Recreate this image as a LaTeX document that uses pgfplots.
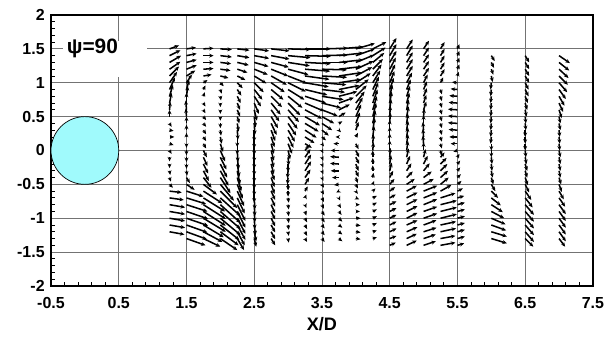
\documentclass[border=0pt]{standalone}
\usepackage{fontspec}
\setmainfont{Liberation Sans}[BoldFont={Liberation Sans Bold}]
\usepackage{pgfplots}
\pgfplotsset{compat=1.18}
\usetikzlibrary{arrows.meta}
\definecolor{cyl}{RGB}{160,250,252}
\begin{document}
\begin{tikzpicture}
\useasboundingbox (-36.7pt,-37.4pt) rectangle (403pt,205.8pt);
\begin{axis}[
  anchor=south west, at={(0pt,0pt)},
  scale only axis, width=390pt, height=195pt,
  xmin=-0.5, xmax=7.5, ymin=-2, ymax=2,
  xtick={-0.5,0.5,...,7.5}, ytick={-2,-1.5,...,2},
  minor x tick num=4, minor y tick num=4,
  tick align=inside, xtick pos=bottom, ytick pos=left,
  major tick length=0pt, minor tick length=3pt,
  grid=major, major grid style={black!55, line width=0.6pt},
  axis line style={line width=1pt},
  every tick/.style={black, line width=0.6pt},
  /pgf/number format/assume math mode=true,
  xticklabel={\textbf{\pgfmathprintnumber{\tick}}},
  yticklabel={\textbf{\pgfmathprintnumber{\tick}}},
  tick label style={font=\fontsize{11.5}{13}\selectfont\bfseries},
  xticklabel style={yshift=-5pt},
  yticklabel style={xshift=-1pt},
  xlabel={\textbf{X/D}}, xlabel style={font=\fontsize{13}{15}\selectfont\bfseries, yshift=1pt},
]
\fill[white] (axis cs:-0.33,1.08) rectangle (axis cs:0.92,1.62);
\node[anchor=west, font=\fontsize{15}{17}\selectfont\bfseries, inner sep=0pt] at (axis cs:-0.27,1.5) {\textbf{ψ=90}};
\draw[fill=cyl, line width=0.5pt] (axis cs:0,0) circle[radius=0.5];
\addplot[black, line width=1.1pt, -{Stealth[length=3.2pt,width=2.8pt]},
  quiver={u=\thisrow{u}, v=\thisrow{v}}] table[x=x, y=y] {
x y u v
1.25 1.5 0.14 0.05
1.25 1.4 0.16 0.08
1.25 1.3 0.17 0.10
1.25 1.2 0.16 0.11
1.25 1.1 0.14 0.14
1.25 1.0 0.11 0.16
1.25 0.9 0.08 0.18
1.25 0.8 0.05 0.17
1.25 0.7 0.03 0.15
1.25 0.6 0.01 0.12
1.25 0.5 0.00 0.10
1.25 0.4 0.03 -0.05
1.25 0.3 0.06 -0.01
1.25 0.2 0.07 0.00
1.25 0.1 0.06 -0.02
1.25 0.0 0.03 -0.05
1.25 -0.1 0.00 -0.06
1.25 -0.2 0.00 -0.06
1.25 -0.3 0.01 -0.06
1.25 -0.4 0.02 -0.06
1.25 -0.5 0.05 -0.05
1.25 -0.6 0.18 -0.02
1.25 -0.7 0.21 -0.03
1.25 -0.8 0.23 -0.04
1.25 -0.9 0.23 -0.04
1.25 -1.0 0.23 -0.04
1.25 -1.1 0.23 -0.04
1.25 -1.2 0.22 -0.04
1.5 1.5 0.14 0.02
1.5 1.4 0.15 0.03
1.5 1.3 0.15 0.04
1.5 1.2 0.15 0.06
1.5 1.1 0.13 0.08
1.5 1.0 0.08 0.12
1.5 0.9 0.04 0.14
1.5 0.8 0.02 0.15
1.5 0.7 0.00 0.15
1.5 0.6 -0.01 0.14
1.5 0.5 -0.01 0.12
1.5 0.4 0.00 0.10
1.5 0.3 0.00 0.08
1.5 0.2 0.00 0.06
1.5 0.1 0.00 -0.06
1.5 0.0 0.00 -0.07
1.5 -0.1 0.00 -0.07
1.5 -0.2 0.00 -0.07
1.5 -0.3 0.01 -0.07
1.5 -0.4 0.05 -0.08
1.5 -0.5 0.12 -0.08
1.5 -0.6 0.25 -0.08
1.5 -0.7 0.29 -0.09
1.5 -0.8 0.31 -0.10
1.5 -0.9 0.32 -0.11
1.5 -1.0 0.32 -0.11
1.5 -1.1 0.31 -0.11
1.5 -1.2 0.30 -0.11
1.5 -1.3 0.28 -0.10
1.75 1.5 0.15 0.01
1.75 1.4 0.15 0.00
1.75 1.3 0.15 0.00
1.75 1.2 0.15 0.01
1.75 1.1 0.12 0.02
1.75 1.0 0.06 0.04
1.75 0.9 0.03 0.06
1.75 0.8 0.02 0.06
1.75 0.7 0.03 -0.05
1.75 0.6 0.03 -0.05
1.75 0.5 0.04 -0.05
1.75 0.4 0.04 -0.05
1.75 0.3 0.04 -0.06
1.75 0.2 0.04 -0.06
1.75 0.1 0.04 -0.07
1.75 0.0 0.05 -0.10
1.75 -0.1 0.06 -0.13
1.75 -0.2 0.07 -0.14
1.75 -0.3 0.08 -0.15
1.75 -0.4 0.12 -0.15
1.75 -0.5 0.20 -0.15
1.75 -0.6 0.28 -0.18
1.75 -0.7 0.32 -0.20
1.75 -0.8 0.33 -0.21
1.75 -0.9 0.33 -0.21
1.75 -1.0 0.33 -0.20
1.75 -1.1 0.30 -0.18
1.75 -1.2 0.28 -0.15
1.75 -1.3 0.25 -0.12
2.0 1.5 0.17 -0.01
2.0 1.4 0.17 -0.02
2.0 1.3 0.16 -0.02
2.0 1.2 0.15 -0.02
2.0 1.1 0.12 -0.03
2.0 1.0 0.05 -0.05
2.0 0.9 0.02 -0.06
2.0 0.8 0.01 -0.06
2.0 0.7 0.00 -0.06
2.0 0.6 0.00 -0.06
2.0 0.5 0.00 -0.06
2.0 0.4 0.00 -0.07
2.0 0.3 0.01 -0.08
2.0 0.2 0.02 -0.10
2.0 0.1 0.04 -0.12
2.0 0.0 0.07 -0.16
2.0 -0.1 0.09 -0.18
2.0 -0.2 0.10 -0.20
2.0 -0.3 0.12 -0.22
2.0 -0.4 0.15 -0.23
2.0 -0.5 0.20 -0.24
2.0 -0.6 0.25 -0.25
2.0 -0.7 0.30 -0.27
2.0 -0.8 0.30 -0.27
2.0 -0.9 0.30 -0.26
2.0 -1.0 0.30 -0.25
2.0 -1.1 0.28 -0.22
2.0 -1.2 0.27 -0.20
2.0 -1.3 0.25 -0.17
2.25 1.5 0.18 -0.02
2.25 1.4 0.18 -0.03
2.25 1.3 0.17 -0.04
2.25 1.2 0.15 -0.05
2.25 1.1 0.12 -0.06
2.25 1.0 0.08 -0.08
2.25 0.9 0.06 -0.09
2.25 0.8 0.05 -0.10
2.25 0.7 0.04 -0.10
2.25 0.6 0.04 -0.10
2.25 0.5 0.03 -0.10
2.25 0.4 0.02 -0.12
2.25 0.3 0.01 -0.14
2.25 0.2 0.00 -0.15
2.25 0.1 0.00 -0.16
2.25 0.0 0.01 -0.17
2.25 -0.1 0.02 -0.18
2.25 -0.2 0.03 -0.19
2.25 -0.3 0.04 -0.20
2.25 -0.4 0.06 -0.20
2.25 -0.5 0.08 -0.21
2.25 -0.6 0.10 -0.22
2.25 -0.7 0.11 -0.23
2.25 -0.8 0.12 -0.24
2.25 -0.9 0.12 -0.24
2.25 -1.0 0.12 -0.23
2.25 -1.1 0.12 -0.22
2.25 -1.2 0.11 -0.20
2.25 -1.3 0.10 -0.17
2.5 1.5 0.22 -0.03
2.5 1.4 0.22 -0.04
2.5 1.3 0.21 -0.06
2.5 1.2 0.20 -0.08
2.5 1.1 0.18 -0.11
2.5 1.0 0.14 -0.14
2.5 0.9 0.12 -0.15
2.5 0.8 0.10 -0.15
2.5 0.7 0.07 -0.16
2.5 0.6 0.04 -0.16
2.5 0.5 0.02 -0.16
2.5 0.4 0.01 -0.17
2.5 0.3 0.00 -0.17
2.5 0.2 0.00 -0.17
2.5 0.1 0.00 -0.17
2.5 0.0 0.00 -0.17
2.5 -0.1 0.00 -0.17
2.5 -0.2 0.00 -0.17
2.5 -0.3 0.00 -0.17
2.5 -0.4 0.00 -0.17
2.5 -0.5 0.00 -0.17
2.5 -0.6 0.00 -0.17
2.5 -0.7 0.01 -0.17
2.5 -0.8 0.01 -0.17
2.5 -0.9 0.01 -0.16
2.5 -1.0 0.01 -0.16
2.5 -1.1 0.02 -0.15
2.5 -1.2 0.03 -0.14
2.5 -1.3 0.03 -0.12
2.75 1.5 0.27 -0.03
2.75 1.4 0.27 -0.05
2.75 1.3 0.26 -0.07
2.75 1.2 0.25 -0.10
2.75 1.1 0.23 -0.13
2.75 1.0 0.20 -0.14
2.75 0.9 0.18 -0.15
2.75 0.8 0.16 -0.16
2.75 0.7 0.14 -0.17
2.75 0.6 0.12 -0.17
2.75 0.5 0.10 -0.17
2.75 0.4 0.08 -0.17
2.75 0.3 0.06 -0.16
2.75 0.2 0.05 -0.15
2.75 0.1 0.04 -0.15
2.75 0.0 0.04 -0.15
2.75 -0.1 0.04 -0.15
2.75 -0.2 0.04 -0.15
2.75 -0.3 0.05 -0.14
2.75 -0.4 0.05 -0.14
2.75 -0.5 0.05 -0.14
2.75 -0.6 0.06 -0.13
2.75 -0.7 0.06 -0.13
2.75 -0.8 0.06 -0.13
2.75 -0.9 0.06 -0.12
2.75 -1.0 0.06 -0.12
2.75 -1.1 0.06 -0.11
2.75 -1.2 0.06 -0.11
2.75 -1.3 0.06 -0.10
3.0 1.5 0.33 -0.01
3.0 1.4 0.33 -0.03
3.0 1.3 0.32 -0.05
3.0 1.2 0.30 -0.08
3.0 1.1 0.28 -0.11
3.0 1.0 0.26 -0.13
3.0 0.9 0.24 -0.15
3.0 0.8 0.21 -0.17
3.0 0.7 0.18 -0.18
3.0 0.6 0.16 -0.18
3.0 0.5 0.14 -0.18
3.0 0.4 0.12 -0.18
3.0 0.3 0.10 -0.17
3.0 0.2 0.08 -0.16
3.0 0.1 0.06 -0.15
3.0 0.0 0.03 -0.13
3.0 -0.1 0.01 -0.12
3.0 -0.2 0.00 -0.12
3.0 -0.3 -0.01 -0.11
3.0 -0.4 -0.01 -0.10
3.0 -0.5 0.00 -0.09
3.0 -0.6 0.00 -0.08
3.0 -0.7 0.01 -0.07
3.0 -0.8 0.01 -0.07
3.0 -0.9 0.01 -0.07
3.0 -1.0 0.01 -0.07
3.0 -1.1 0.01 -0.07
3.0 -1.2 0.01 -0.06
3.0 -1.3 0.01 -0.06
3.25 1.5 0.38 0.00
3.25 1.4 0.38 -0.01
3.25 1.3 0.38 -0.02
3.25 1.2 0.37 -0.03
3.25 1.1 0.36 -0.05
3.25 1.0 0.35 -0.06
3.25 0.9 0.33 -0.08
3.25 0.8 0.31 -0.10
3.25 0.7 0.28 -0.12
3.25 0.6 0.25 -0.13
3.25 0.5 0.22 -0.13
3.25 0.4 0.20 -0.12
3.25 0.3 0.17 -0.11
3.25 0.2 0.14 -0.09
3.25 0.1 0.10 -0.06
3.25 0.0 0.06 0.08
3.25 -0.1 0.08 0.12
3.25 -0.2 0.09 0.14
3.25 -0.3 0.09 0.14
3.25 -0.4 0.08 0.12
3.25 -0.5 0.06 0.10
3.25 -0.6 0.04 0.07
3.25 -0.7 0.02 0.05
3.25 -0.8 0.02 -0.05
3.25 -0.9 0.02 -0.06
3.25 -1.0 0.03 -0.06
3.25 -1.1 0.03 -0.06
3.25 -1.2 0.03 -0.06
3.25 -1.3 0.03 -0.05
3.5 1.5 0.38 0.01
3.5 1.4 0.38 0.01
3.5 1.3 0.38 0.00
3.5 1.2 0.37 -0.01
3.5 1.1 0.37 -0.02
3.5 1.0 0.36 -0.03
3.5 0.9 0.34 -0.04
3.5 0.8 0.32 -0.05
3.5 0.7 0.28 -0.07
3.5 0.6 0.23 -0.09
3.5 0.5 0.18 -0.10
3.5 0.4 0.15 -0.10
3.5 0.3 0.10 -0.08
3.5 0.2 0.06 -0.05
3.5 0.1 0.03 -0.04
3.5 0.0 0.02 -0.04
3.5 -0.1 0.02 -0.05
3.5 -0.2 0.02 -0.05
3.5 -0.3 0.02 -0.05
3.5 -0.4 0.02 -0.05
3.5 -0.5 0.03 -0.05
3.5 -0.6 0.03 -0.05
3.5 -0.7 0.03 -0.06
3.5 -0.8 0.03 -0.06
3.5 -0.9 0.04 -0.06
3.5 -1.0 0.04 -0.06
3.5 -1.1 0.04 -0.05
3.5 -1.2 0.04 -0.05
3.5 -1.3 0.04 -0.05
3.75 1.5 0.36 0.03
3.75 1.4 0.36 0.04
3.75 1.3 0.36 0.04
3.75 1.2 0.35 0.04
3.75 1.1 0.34 0.05
3.75 1.0 0.33 0.05
3.75 0.9 0.30 0.06
3.75 0.8 0.27 0.07
3.75 0.7 0.22 0.08
3.75 0.6 0.16 0.08
3.75 0.5 0.10 0.06
3.75 0.4 0.05 0.03
3.75 0.3 0.03 -0.03
3.75 0.2 -0.05 0.00
3.75 0.1 -0.08 0.00
3.75 0.0 -0.12 0.00
3.75 -0.1 -0.13 0.01
3.75 -0.2 -0.13 0.01
3.75 -0.3 -0.12 0.00
3.75 -0.4 -0.10 0.00
3.75 -0.5 -0.07 -0.01
3.75 -0.6 -0.04 -0.02
3.75 -0.7 0.02 -0.04
3.75 -0.8 0.03 -0.05
3.75 -0.9 0.04 -0.05
3.75 -1.0 0.05 -0.05
3.75 -1.1 0.05 -0.04
3.75 -1.2 0.05 -0.04
3.75 -1.3 0.05 -0.04
4.0 1.5 0.28 0.08
4.0 1.4 0.28 0.10
4.0 1.3 0.27 0.11
4.0 1.2 0.26 0.12
4.0 1.1 0.24 0.13
4.0 1.0 0.22 0.14
4.0 0.9 0.19 0.15
4.0 0.8 0.16 0.16
4.0 0.7 0.13 0.17
4.0 0.6 0.10 0.18
4.0 0.5 0.08 0.18
4.0 0.4 0.06 0.16
4.0 0.3 0.04 0.12
4.0 0.2 0.03 0.06
4.0 0.1 0.04 -0.08
4.0 0.0 0.05 -0.10
4.0 -0.1 0.05 -0.10
4.0 -0.2 0.04 -0.10
4.0 -0.3 0.04 -0.09
4.0 -0.4 0.03 -0.08
4.0 -0.5 0.03 -0.06
4.0 -0.6 0.03 -0.04
4.0 -0.7 0.05 -0.02
4.0 -0.8 0.06 0.00
4.0 -0.9 0.06 0.00
4.0 -1.0 0.07 0.00
4.0 -1.1 0.07 -0.01
4.0 -1.2 0.07 -0.01
4.0 -1.3 0.07 -0.01
4.25 1.5 0.20 0.10
4.25 1.4 0.19 0.12
4.25 1.3 0.17 0.14
4.25 1.2 0.15 0.15
4.25 1.1 0.13 0.17
4.25 1.0 0.11 0.18
4.25 0.9 0.09 0.19
4.25 0.8 0.08 0.20
4.25 0.7 0.07 0.20
4.25 0.6 0.06 0.20
4.25 0.5 0.05 0.20
4.25 0.4 0.04 0.19
4.25 0.3 0.03 0.18
4.25 0.2 0.02 0.16
4.25 0.1 0.01 0.14
4.25 0.0 0.01 0.12
4.25 -0.1 0.00 0.10
4.25 -0.2 0.00 0.09
4.25 -0.3 0.00 0.08
4.25 -0.4 0.01 0.07
4.25 -0.5 0.02 0.05
4.25 -0.6 0.04 0.04
4.25 -0.7 0.06 0.03
4.25 -0.8 0.06 0.03
4.25 -0.9 0.06 0.03
4.25 -1.0 0.06 0.03
4.25 -1.1 0.06 0.03
4.25 -1.2 0.06 0.02
4.25 -1.3 0.06 0.02
4.5 1.5 0.10 0.16
4.5 1.4 0.10 0.17
4.5 1.3 0.10 0.17
4.5 1.2 0.09 0.17
4.5 1.1 0.08 0.17
4.5 1.0 0.07 0.17
4.5 0.9 0.06 0.17
4.5 0.8 0.04 0.17
4.5 0.7 0.03 0.17
4.5 0.6 0.02 0.16
4.5 0.5 0.01 0.16
4.5 0.4 0.01 0.16
4.5 0.3 0.00 0.15
4.5 0.2 0.00 0.15
4.5 0.1 0.00 0.15
4.5 0.0 0.00 0.15
4.5 -0.1 0.01 0.14
4.5 -0.2 0.02 0.13
4.5 -0.3 0.03 0.12
4.5 -0.4 0.05 0.10
4.5 -0.5 0.07 0.08
4.5 -0.6 0.08 0.06
4.5 -0.7 0.09 0.05
4.5 -0.8 0.10 0.05
4.5 -0.9 0.10 0.05
4.5 -1.0 0.10 0.05
4.5 -1.1 0.10 0.05
4.5 -1.2 0.10 0.05
4.5 -1.3 0.10 0.04
4.5 -1.4 0.09 0.04
4.75 1.5 0.09 0.14
4.75 1.4 0.09 0.15
4.75 1.3 0.09 0.15
4.75 1.2 0.09 0.15
4.75 1.1 0.09 0.15
4.75 1.0 0.08 0.15
4.75 0.9 0.06 0.15
4.75 0.8 0.05 0.15
4.75 0.7 0.04 0.15
4.75 0.6 0.03 0.15
4.75 0.5 0.03 0.15
4.75 0.4 0.02 0.14
4.75 0.3 0.02 0.14
4.75 0.2 0.02 0.14
4.75 0.1 0.02 0.14
4.75 0.0 0.02 0.14
4.75 -0.1 0.03 0.13
4.75 -0.2 0.05 0.12
4.75 -0.3 0.07 0.11
4.75 -0.4 0.09 0.09
4.75 -0.5 0.12 0.08
4.75 -0.6 0.15 0.08
4.75 -0.7 0.16 0.08
4.75 -0.8 0.16 0.08
4.75 -0.9 0.16 0.08
4.75 -1.0 0.16 0.08
4.75 -1.1 0.16 0.07
4.75 -1.2 0.16 0.07
4.75 -1.3 0.15 0.07
4.75 -1.4 0.15 0.07
5.0 1.5 0.08 0.12
5.0 1.4 0.08 0.12
5.0 1.3 0.08 0.12
5.0 1.2 0.08 0.12
5.0 1.1 0.08 0.12
5.0 1.0 0.06 0.12
5.0 0.9 0.05 0.12
5.0 0.8 0.05 0.12
5.0 0.7 0.04 0.12
5.0 0.6 0.04 0.12
5.0 0.5 0.01 0.12
5.0 0.4 0.00 0.12
5.0 0.3 -0.01 0.12
5.0 0.2 -0.01 0.12
5.0 0.1 -0.01 0.12
5.0 0.0 0.00 0.12
5.0 -0.1 0.03 0.12
5.0 -0.2 0.06 0.12
5.0 -0.3 0.09 0.11
5.0 -0.4 0.12 0.09
5.0 -0.5 0.15 0.08
5.0 -0.6 0.20 0.08
5.0 -0.7 0.20 0.08
5.0 -0.8 0.20 0.08
5.0 -0.9 0.20 0.07
5.0 -1.0 0.20 0.07
5.0 -1.1 0.19 0.07
5.0 -1.2 0.19 0.06
5.0 -1.3 0.18 0.06
5.0 -1.4 0.18 0.06
5.25 1.5 0.06 0.10
5.25 1.4 0.06 0.10
5.25 1.3 0.06 0.10
5.25 1.2 0.06 0.10
5.25 1.1 0.06 0.10
5.25 1.0 0.04 0.08
5.25 0.9 0.02 -0.07
5.25 0.8 0.02 -0.07
5.25 0.7 0.02 -0.07
5.25 0.6 0.02 -0.07
5.25 0.5 0.02 -0.07
5.25 0.4 0.02 -0.07
5.25 0.3 0.02 -0.07
5.25 0.2 0.02 -0.07
5.25 0.1 0.02 -0.07
5.25 0.0 0.02 -0.07
5.25 -0.1 0.06 0.07
5.25 -0.2 0.09 0.09
5.25 -0.3 0.10 0.10
5.25 -0.4 0.11 0.10
5.25 -0.5 0.12 0.10
5.25 -0.6 0.16 0.09
5.25 -0.7 0.22 0.07
5.25 -0.8 0.24 0.06
5.25 -0.9 0.24 0.06
5.25 -1.0 0.24 0.06
5.25 -1.1 0.23 0.05
5.25 -1.2 0.23 0.05
5.25 -1.3 0.22 0.04
5.25 -1.4 0.22 0.04
5.5 1.5 0.03 0.07
5.5 1.4 0.03 0.07
5.5 1.3 0.03 0.07
5.5 1.2 0.03 0.07
5.5 1.1 0.02 0.06
5.5 1.0 -0.08 0.01
5.5 0.9 -0.10 0.01
5.5 0.8 -0.12 0.01
5.5 0.7 -0.13 0.01
5.5 0.6 -0.14 0.01
5.5 0.5 -0.14 0.01
5.5 0.4 -0.14 0.01
5.5 0.3 -0.13 0.01
5.5 0.2 -0.12 0.00
5.5 0.1 -0.10 0.00
5.5 0.0 -0.06 -0.02
5.5 -0.1 0.03 0.05
5.5 -0.2 0.04 0.05
5.5 -0.3 0.04 0.05
5.5 -0.4 0.05 0.05
5.5 -0.5 0.06 0.05
5.5 -0.6 0.08 0.04
5.5 -0.7 0.10 0.03
5.5 -0.8 0.11 0.03
5.5 -0.9 0.11 0.03
5.5 -1.0 0.11 0.03
5.5 -1.1 0.11 0.03
5.5 -1.2 0.11 0.03
5.5 -1.3 0.11 0.03
5.5 -1.4 0.10 0.03
6.0 1.4 0.05 -0.08
6.0 1.3 0.04 -0.08
6.0 1.2 0.03 -0.08
6.0 1.1 0.02 -0.09
6.0 1.0 -0.01 -0.10
6.0 0.9 -0.01 -0.10
6.0 0.8 -0.01 -0.10
6.0 0.7 -0.01 -0.10
6.0 0.6 -0.01 -0.10
6.0 0.5 -0.01 -0.10
6.0 0.4 -0.01 -0.10
6.0 0.3 -0.01 -0.10
6.0 0.2 -0.01 -0.10
6.0 0.1 0.00 -0.10
6.0 0.0 0.00 -0.10
6.0 -0.1 0.01 -0.10
6.0 -0.2 0.01 -0.10
6.0 -0.3 0.02 -0.10
6.0 -0.4 0.03 -0.10
6.0 -0.5 0.06 -0.10
6.0 -0.6 0.10 -0.10
6.0 -0.7 0.14 -0.11
6.0 -0.8 0.17 -0.11
6.0 -0.9 0.19 -0.10
6.0 -1.0 0.21 -0.09
6.0 -1.1 0.22 -0.08
6.0 -1.2 0.23 -0.07
6.0 -1.3 0.23 -0.07
6.5 1.4 0.06 -0.10
6.5 1.3 0.06 -0.10
6.5 1.2 0.06 -0.10
6.5 1.1 0.06 -0.10
6.5 1.0 0.05 -0.10
6.5 0.9 0.05 -0.10
6.5 0.8 0.04 -0.10
6.5 0.7 0.03 -0.10
6.5 0.6 0.02 -0.10
6.5 0.5 0.01 -0.10
6.5 0.4 0.01 -0.10
6.5 0.3 0.00 -0.10
6.5 0.2 0.00 -0.10
6.5 0.1 0.00 -0.10
6.5 0.0 0.01 -0.10
6.5 -0.1 0.02 -0.10
6.5 -0.2 0.03 -0.10
6.5 -0.3 0.03 -0.10
6.5 -0.4 0.04 -0.11
6.5 -0.5 0.06 -0.12
6.5 -0.6 0.09 -0.13
6.5 -0.7 0.11 -0.14
6.5 -0.8 0.13 -0.15
6.5 -0.9 0.13 -0.15
6.5 -1.0 0.13 -0.15
6.5 -1.1 0.13 -0.15
6.5 -1.2 0.13 -0.15
6.5 -1.3 0.12 -0.12
7.0 1.4 0.16 -0.11
7.0 1.3 0.15 -0.12
7.0 1.2 0.14 -0.13
7.0 1.1 0.13 -0.13
7.0 1.0 0.12 -0.14
7.0 0.9 0.10 -0.14
7.0 0.8 0.08 -0.14
7.0 0.7 0.06 -0.13
7.0 0.6 0.04 -0.12
7.0 0.5 0.02 -0.10
7.0 0.4 0.02 -0.10
7.0 0.3 0.01 -0.10
7.0 0.2 0.01 -0.10
7.0 0.1 0.01 -0.10
7.0 0.0 0.02 -0.10
7.0 -0.1 0.02 -0.10
7.0 -0.2 0.02 -0.10
7.0 -0.3 0.02 -0.10
7.0 -0.4 0.03 -0.10
7.0 -0.5 0.04 -0.11
7.0 -0.6 0.07 -0.12
7.0 -0.7 0.09 -0.13
7.0 -0.8 0.10 -0.14
7.0 -0.9 0.10 -0.14
7.0 -1.0 0.10 -0.14
7.0 -1.1 0.10 -0.14
7.0 -1.2 0.10 -0.14
7.0 -1.3 0.09 -0.12
};
\end{axis}
\end{tikzpicture}
\end{document}
